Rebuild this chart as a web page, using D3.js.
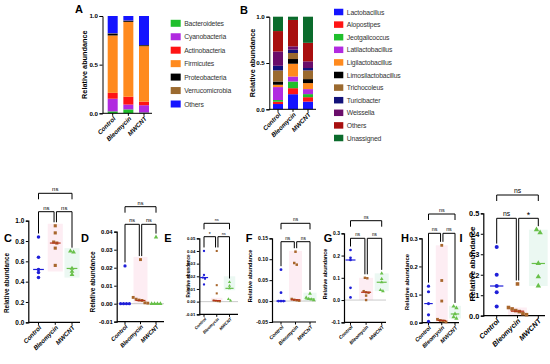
<!DOCTYPE html>
<html>
<head>
<meta charset="utf-8">
<style>
body { margin: 0; background: #fff; }
text { font-family: "Liberation Sans", Arial, sans-serif; }
</style>
</head>
<body>
<script src="https://cdnjs.cloudflare.com/ajax/libs/d3/7.8.5/d3.min.js"></script>
<script>

var groups = ["Control", "Bleomycin", "MWCNT"];

// A - phylum composition (bottom to top of each bar)
var phylumNames = ["Bacteroidetes", "Cyanobacteria", "Actinobacteria", "Firmicutes", "Proteobacteria", "Verrucomicrobia", "Others"];
var phylumControl   = [0.02, 0.13, 0.06, 0.59, 0.02, 0.003, 0.177];
var phylumBleomycin = [0.04, 0.05, 0.08, 0.77, 0.012, 0.002, 0.046];
var phylumMWCNT     = [0.008, 0.075, 0.037, 0.57, 0.01, 0.002, 0.298];
var phylumTicks = [0, 0.5, 1.0];

// B - genus composition (bottom to top)
var genusNames = ["Lactobacillus", "Alopostipes", "Jeotgalicoccus", "Latilactobacillus", "Ligilactobacillus",
                  "Limosilactobacillus", "Trichocoleus", "Turicibacter", "Weissella", "Others", "Unassigned"];
var genusControl   = [0.057, 0.025, 0.018, 0.14, 0.025, 0.035, 0.12, 0.05, 0.155, 0.22, 0.155];
var genusBleomycin = [0.163, 0.065, 0.072, 0.054, 0.138, 0.051, 0.065, 0.036, 0.036, 0.285, 0.035];
var genusMWCNT     = [0.083, 0.048, 0.033, 0.054, 0.065, 0.043, 0.094, 0.026, 0.072, 0.2, 0.282];
var genusTicks = [0, 0.5, 1.0];

// C - I individual taxa (relative abundance per animal)
var cControl = [0.84, 0.64, 0.52, 0.49, 0.44];
var cBleomycin = [0.95, 0.88, 0.79, 0.78, 0.73, 0.56];
var cMWCNT = [0.70, 0.69, 0.53, 0.50, 0.47];
var cMedians = [0.52, 0.78, 0.53];
var cBands = [null, [0.5, 0.97], [0.44, 0.73]];
var cSig = ["ns", "ns", "ns"];
var cTicks = [0, 0.2, 0.4, 0.6, 0.8, 1.0];

var dControl = [0.021, 0, 0, 0, 0];
var dBleomycin = [0.0245, 0.0035, 0.0025, 0.002, 0.0018, 0.0005, 0.0003];
var dMWCNT = [0.037, 0, 0, 0, 0];
var dMedians = [0, 0.0018, 0];
var dBands = [null, [0, 0.026], null];
var dSig = ["ns", "ns", "ns"];
var dTicks = [-0.01, 0, 0.01, 0.02, 0.03, 0.04];

var eControl = [0.040, 0.021, 0.019, 0.018, 0.0135];
var eBleomycin = [0.040, 0.013, 0.0065, 0.001, 0.0007, 0.0004, 0.0002];
var eMWCNT = [0.0155, 0.0125, 0.0105, 0.002, 0.0008];
var eMedians = [0.019, 0.0008, 0.0105];
var eBands = [null, [0, 0.003], [0.009, 0.02]];
var eSig = ["*", "ns", "ns"];
var eTicks = [-0.01, 0, 0.01, 0.02, 0.03, 0.04, 0.05];

var fControl = [0.075, 0.02, 0, 0, 0];
var fBleomycin = [0.118, 0.091, 0.087, 0.005, 0.003, 0.002, 0.001];
var fMWCNT = [0.018, 0.008, 0.005, 0.004, 0.002];
var fMedians = [0, 0.003, 0.005];
var fBands = [null, [0, 0.12], [0, 0.02]];
var fSig = ["ns", "ns", "ns"];
var fTicks = [-0.05, 0, 0.05, 0.10, 0.15];

var gControl = [0.225, 0.19, 0.18, 0.055, 0.012];
var gBleomycin = [0.10, 0.098, 0.04, 0.035, 0.033, 0.02, 0.0];
var gMWCNT = [0.12, 0.095, 0.08, 0.045, 0.04];
var gMedians = [0.18, 0.035, 0.08];
var gBands = [null, [0, 0.1], [0.04, 0.12]];
var gSig = ["ns", "ns", "ns"];
var gTicks = [-0.1, 0, 0.1, 0.2, 0.3];

var hControl = [0.13, 0.11, 0.068, 0.028, 0.005];
var hBleomycin = [0.275, 0.15, 0.077, 0.012, 0.008, 0.006, 0.003];
var hMWCNT = [0.058, 0.052, 0.031, 0.02, 0.015];
var hMedians = [0.068, 0.008, 0.031];
var hBands = [null, [0, 0.275], [0.015, 0.06]];
var hSig = ["ns", "ns", "ns"];
var hTicks = [0, 0.1, 0.2, 0.3];

var iControl = [0.335, 0.2, 0.145, 0.115, 0.045];
var iBleomycin = [0.155, 0.04, 0.033, 0.025, 0.02, 0.01, 0.005];
var iMWCNT = [0.42, 0.405, 0.255, 0.19, 0.145];
var iMedians = [0.145, 0.022, 0.255];
var iBands = [null, [0, 0.04], [0.145, 0.42]];
var iSig = ["ns", "*", "ns"];
var iTicks = [0, 0.1, 0.2, 0.3, 0.4, 0.5];

// colours
var phylumColors = ["#1fbf2c", "#b12ae0", "#ff1414", "#ff8a1e", "#000000", "#9b6a2f", "#1414ff"];
var genusColors = ["#1414ff", "#ff1414", "#1fbf2c", "#b12ae0", "#ff8a1e", "#000000", "#9b6a2f",
                   "#12127a", "#6a0d6a", "#a80f0f", "#0b6b2c"];
var dotColors = ["#1f1fd8", "#a8662c", "#68c04a"];
var medianColors = ["#1f1fd8", "#b5331a", "#68c04a"];
var bandColors = ["#f7f7ff", "#fdedf3", "#ebf8f2"];
var symbols = [d3.symbolCircle, d3.symbolSquare, d3.symbolTriangle];

var svg = d3.select("body").append("svg")
    .attr("width", 550)
    .attr("height", 364);

function fmt(f) {
  var ff = d3.format(f);
  return function(d) { return ff(d).replace("\u2212", "-"); };
}

// panel letters, centred on the given point
function letter(t, x, y) {
  svg.append("text").attr("x", x).attr("y", y)
    .attr("text-anchor", "middle")
    .attr("dominant-baseline", "central")
    .attr("font-size", 11).attr("font-weight", "bold")
    .text(t);
}

function styleAxis(a, fs) {
  a.selectAll("path, line").attr("stroke", "#000").attr("stroke-width", 1);
  a.selectAll("text").attr("font-size", fs).attr("font-weight", "bold")
    .attr("fill", "#000").style("font-family", "'Liberation Sans', Arial, sans-serif");
}

function xLabels(g, x, yBot, fs) {
  g.selectAll("text.xl").data(groups).join("text")
    .attr("class", "xl")
    .attr("transform", function(d) { return "translate(" + (x(d) + 1.5) + "," + (yBot + 4) + ") rotate(-45)"; })
    .attr("text-anchor", "end")
    .attr("dominant-baseline", "central")
    .attr("font-size", fs).attr("font-weight", "bold").attr("font-style", "italic")
    .text(function(d) { return d; });
}

// ---- stacked bar panels
function stackedPanel(o) {
  var g = svg.append("g");
  var y = d3.scaleLinear().domain([0, 1]).range([o.yBot, o.yTop]);
  var x = d3.scaleBand().domain(groups).range([o.x0, o.x1]).paddingInner(o.padIn).paddingOuter(0);

  var rows = groups.map(function(gr, i) {
    var r = {group: gr};
    o.names.forEach(function(n, j) { r[n] = o.values[i][j]; });
    return r;
  });
  var series = d3.stack().keys(o.names)(rows);

  g.selectAll("g.s").data(series).join("g")
    .attr("fill", function(d, i) { return o.colors[i]; })
    .selectAll("rect").data(function(d) { return d; }).join("rect")
    .attr("x", function(d) { return x(d.data.group); })
    .attr("width", x.bandwidth())
    .attr("y", function(d) { return y(d[1]); })
    .attr("height", function(d) { return y(d[0]) - y(d[1]); });

  var ya = g.append("g").attr("transform", "translate(" + o.axisX + ",0)")
    .call(d3.axisLeft(y).tickValues(o.ticks).tickFormat(fmt(".1f")).tickSize(3).tickPadding(1.5));
  styleAxis(ya, 6.2);

  g.append("line").attr("x1", o.axisX).attr("x2", o.axisEnd)
    .attr("y1", o.yBot).attr("y2", o.yBot).attr("stroke", "#000");
  g.selectAll("line.xt").data(groups).join("line").attr("class", "xt")
    .attr("x1", function(d) { return x(d) + x.bandwidth() / 2; })
    .attr("x2", function(d) { return x(d) + x.bandwidth() / 2; })
    .attr("y1", o.yBot).attr("y2", o.yBot + 2.5).attr("stroke", "#000");

  var xc = function(d) { return x(d) + x.bandwidth() / 2; };
  xLabels(g, xc, o.yBot, 6.3);

  g.append("text")
    .attr("transform", "translate(" + o.labelX + "," + ((o.yTop + o.yBot) / 2) + ") rotate(-90)")
    .attr("text-anchor", "middle").attr("dominant-baseline", "central")
    .attr("font-size", 7.3).attr("font-weight", "bold")
    .text("Relative abundance");

  // legend
  var lg = g.append("g");
  var item = lg.selectAll("g").data(o.names).join("g")
    .attr("transform", function(d, i) { return "translate(" + o.legX + "," + (o.legY + i * o.legStep) + ")"; });
  item.append("rect").attr("x", 0).attr("y", -o.legH / 2).attr("width", o.legW).attr("height", o.legH)
    .attr("fill", function(d, i) { return o.colors[i]; });
  item.append("text").attr("x", o.legW + 3.5).attr("y", 0).attr("dominant-baseline", "central")
    .attr("font-size", 6.8).attr("fill", "#333").attr("letter-spacing", -0.15)
    .text(function(d) { return d; });
}

stackedPanel({
  names: phylumNames, colors: phylumColors, ticks: phylumTicks,
  values: [phylumControl, phylumBleomycin, phylumMWCNT],
  x0: 107.7, x1: 149, padIn: 0.361, axisX: 102.5, axisEnd: 152,
  yBot: 113.3, yTop: 16, labelX: 84,
  legX: 170.7, legY: 23.3, legStep: 13.45, legW: 10, legH: 7
});
letter("A", 79, 8.5);

stackedPanel({
  names: genusNames, colors: genusColors, ticks: genusTicks,
  values: [genusControl, genusBleomycin, genusMWCNT],
  x0: 273, x1: 313, padIn: 0.333, axisX: 269.3, axisEnd: 316,
  yBot: 109.3, yTop: 16.7, labelX: 252,
  legX: 334, legY: 12, legStep: 12.6, legW: 9.3, legH: 6.5
});
letter("B", 244, 9.5);

// ---- scatter panels
// spread points of nearly equal value side by side, like a column scatter
function spread(vals, y, gap) {
  var idx = vals.map(function(v, i) { return i; }).sort(function(a, b) { return vals[b] - vals[a]; });
  var off = new Array(vals.length).fill(0);
  var cluster = [];
  function flush() {
    var k = cluster.length;
    cluster.forEach(function(ci, j) { off[ci] = (j - (k - 1) / 2) * gap; });
    cluster = [];
  }
  idx.forEach(function(i) {
    if (cluster.length && Math.abs(y(vals[i]) - y(vals[cluster[cluster.length - 1]])) > gap * 0.9) flush();
    cluster.push(i);
  });
  flush();
  return off;
}

function dotPanel(o) {
  var g = svg.append("g");
  var y = d3.scaleLinear().domain(o.domain).range([o.yBot, o.yTop]);
  var x = d3.scalePoint().domain(groups).range(o.cats);
  var step = x.step();
  var fs = o.fs;

  // floating bands
  o.bands.forEach(function(b, i) {
    if (!b) return;
    g.append("rect")
      .attr("x", x(groups[i]) - step * 0.45).attr("width", step * 0.9)
      .attr("y", y(b[1])).attr("height", y(b[0]) - y(b[1]))
      .attr("fill", bandColors[i]);
  });

  if (o.domain[0] < 0) {
    g.append("line").attr("x1", o.axisX).attr("x2", o.axisEnd)
      .attr("y1", y(0)).attr("y2", y(0)).attr("stroke", "#bdbdbd").attr("stroke-width", 0.8);
  }

  var ya = g.append("g").attr("transform", "translate(" + o.axisX + ",0)")
    .call(d3.axisLeft(y).tickValues(o.ticks).tickFormat(fmt(o.fmt)).tickSize(2.5).tickPadding(1.5));
  styleAxis(ya, fs * 0.92);
  ya.select("path").attr("stroke-width", 1.2);

  g.append("line").attr("x1", o.axisX).attr("x2", o.axisEnd)
    .attr("y1", o.yBot).attr("y2", o.yBot).attr("stroke", "#000").attr("stroke-width", 1.2);
  g.selectAll("line.xt").data(groups).join("line").attr("class", "xt")
    .attr("x1", function(d) { return x(d); }).attr("x2", function(d) { return x(d); })
    .attr("y1", o.yBot).attr("y2", o.yBot + 2.5).attr("stroke", "#000");
  xLabels(g, x, o.yBot, fs * 0.9);

  g.append("text")
    .attr("transform", "translate(" + o.labelX + "," + o.labelY + ") rotate(-90)")
    .attr("text-anchor", "middle").attr("dominant-baseline", "central")
    .attr("font-size", o.lfs || fs).attr("font-weight", "bold")
    .text("Relative abundance");

  // points
  var gap = fs * 0.45;
  o.data.forEach(function(vals, gi) {
    var off = spread(vals, y, gap);
    var sym = d3.symbol().type(symbols[gi]).size(fs * fs * 0.2);
    g.selectAll(null).data(vals).join("path")
      .attr("transform", function(d, i) { return "translate(" + (x(groups[gi]) + off[i]) + "," + y(d) + ")"; })
      .attr("d", sym)
      .attr("fill", dotColors[gi]);
  });

  // medians
  g.selectAll("line.med").data(o.med).join("line").attr("class", "med")
    .attr("x1", function(d, i) { return x(groups[i]) - step * 0.32; })
    .attr("x2", function(d, i) { return x(groups[i]) + step * 0.32; })
    .attr("y1", function(d) { return y(d); }).attr("y2", function(d) { return y(d); })
    .attr("stroke", function(d, i) { return medianColors[i]; }).attr("stroke-width", 1.2);

  // significance brackets
  var maxY = o.data.map(function(v) { return y(d3.max(v)); });
  function leg(i) { return Math.max(o.lowY + 4, maxY[i] - 3.5); }
  var sfs = fs * 0.85;
  var br = [
    {a: x(groups[0]), b: x(groups[1]) - 1.2, yl: o.lowY, la: leg(0), lb: leg(1), t: o.sig[0]},
    {a: x(groups[1]) + 1.2, b: x(groups[2]), yl: o.lowY, la: leg(1), lb: leg(2), t: o.sig[1]},
    {a: x(groups[0]), b: x(groups[2]), yl: o.topY, la: o.topY + 6, lb: o.topY + 6, t: o.sig[2]}
  ];
  g.selectAll("path.br").data(br).join("path").attr("class", "br")
    .attr("d", function(d) { return "M" + d.a + "," + d.la + "V" + d.yl + "H" + d.b + "V" + d.lb; })
    .attr("fill", "none").attr("stroke", "#000").attr("stroke-width", 1);
  g.selectAll("text.sig").data(br).join("text").attr("class", "sig")
    .attr("x", function(d) { return (d.a + d.b) / 2; })
    .attr("y", function(d) { return d.yl - (d.t === "*" ? 0.5 : 2); })
    .attr("text-anchor", "middle")
    .attr("font-size", function(d) { return d.t === "*" ? sfs * 1.3 : sfs; })
    .text(function(d) { return d.t; });

  letter(o.letter, o.lx, o.ly);
}

dotPanel({letter: "C", lx: 8, ly: 238, data: [cControl, cBleomycin, cMWCNT], med: cMedians, bands: cBands, sig: cSig,
  ticks: cTicks, fmt: ".1f", domain: [0, 1], axisX: 28.3, yBot: 322.3, yTop: 220.7,
  cats: [38.5, 72], axisEnd: 80, labelX: 6, labelY: 283, lfs: 6.4, fs: 7, topY: 193.3, lowY: 211.7});

dotPanel({letter: "D", lx: 85, ly: 238, data: [dControl, dBleomycin, dMWCNT], med: dMedians, bands: dBands, sig: dSig,
  ticks: dTicks, fmt: ".2f", domain: [-0.01, 0.04], axisX: 116.7, yBot: 321.7, yTop: 231.7,
  cats: [125, 156], axisEnd: 164, labelX: 92, labelY: 282, fs: 6.5, topY: 206.7, lowY: 224.3});

dotPanel({letter: "E", lx: 168, ly: 238, data: [eControl, eBleomycin, eMWCNT], med: eMedians, bands: eBands, sig: eSig,
  ticks: eTicks, fmt: ".2f", domain: [-0.01, 0.05], axisX: 199.3, yBot: 314.3, yTop: 238.3,
  cats: [204, 229.5], axisEnd: 238, labelX: 188.3, labelY: 276, fs: 4.6, topY: 223.3, lowY: 236.7});

dotPanel({letter: "F", lx: 249, ly: 238, data: [fControl, fBleomycin, fMWCNT], med: fMedians, bands: fBands, sig: fSig,
  ticks: fTicks, fmt: ".2f", domain: [-0.05, 0.15], axisX: 272, yBot: 322, yTop: 238.3,
  cats: [281, 310], axisEnd: 316, labelX: 250, labelY: 276, fs: 5.6, topY: 223.3, lowY: 241.7});

dotPanel({letter: "G", lx: 328, ly: 238, data: [gControl, gBleomycin, gMWCNT], med: gMedians, bands: gBands, sig: gSig,
  ticks: gTicks, fmt: ".1f", domain: [-0.1, 0.3], axisX: 344, yBot: 322.3, yTop: 233.3,
  cats: [350.5, 381.7], axisEnd: 386, labelX: 325, labelY: 274, fs: 5.4, topY: 220.7, lowY: 238.3});

dotPanel({letter: "H", lx: 405, ly: 238, data: [hControl, hBleomycin, hMWCNT], med: hMedians, bands: hBands, sig: hSig,
  ticks: hTicks, fmt: ".1f", domain: [0, 0.3], axisX: 421.7, yBot: 322.7, yTop: 238.3,
  cats: [428.5, 455], axisEnd: 459, labelX: 407, labelY: 282, lfs: 6, fs: 6.3, topY: 214, lowY: 233.3});

dotPanel({letter: "I", lx: 461, ly: 238, data: [iControl, iBleomycin, iMWCNT], med: iMedians, bands: iBands, sig: iSig,
  ticks: iTicks, fmt: ".1f", domain: [0, 0.5], axisX: 483.3, yBot: 315.7, yTop: 213.3,
  cats: [496.7, 538.3], axisEnd: 545, labelX: 472, labelY: 264, fs: 8, topY: 195, lowY: 218.3});

</script>
</body>
</html>
